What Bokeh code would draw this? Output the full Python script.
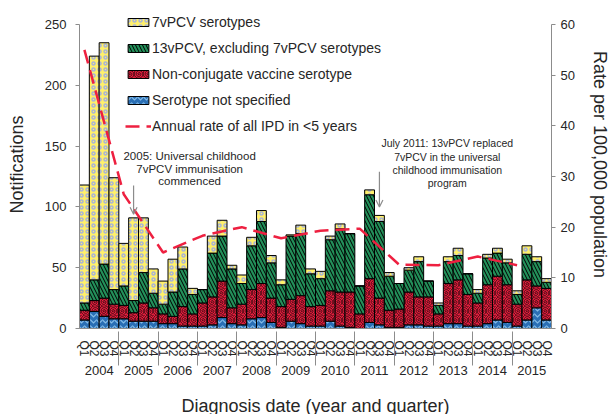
from bokeh.plotting import figure
from bokeh.models import (FactorRange, Range1d, LinearAxis, FixedTicker, Legend, LegendItem,
                          Label, Arrow, OpenHead, ColumnDataSource)
from bokeh.embed import file_html
from bokeh.resources import INLINE

years = [str(y) for y in range(2004, 2016)]
quarters = ["Q1", "Q2", "Q3", "Q4"]

# Notifications per quarter, 2004 Q1 .. 2015 Q4 (stack components)
serotype_not_specified = [7, 14, 10, 8, 8, 6, 6, 6, 4, 4, 2, 2,
                          2, 3, 9, 4, 3, 8, 9, 5, 1, 6, 4, 2,
                          2, 6, 2, 1, 0, 5, 3, 1, 1, 3, 3, 2,
                          2, 4, 4, 2, 2, 4, 7, 5, 2, 7, 17, 7]
non_conjugate = [8, 9, 15, 12, 11, 7, 15, 11, 8, 6, 16, 10,
                 19, 23, 30, 13, 17, 24, 28, 20, 17, 18, 23, 16,
                 17, 25, 28, 29, 12, 36, 22, 14, 15, 27, 23, 24,
                 10, 33, 36, 26, 19, 32, 36, 31, 18, 33, 18, 26]
pcv13_excl_7 = [6, 17, 28, 12, 16, 10, 25, 12, 8, 20, 31, 16,
                11, 36, 37, 32, 17, 36, 51, 29, 18, 52, 51, 27,
                22, 42, 52, 48, 23, 69, 63, 28, 21, 18, 29, 13,
                7, 18, 20, 17, 8, 22, 19, 18, 8, 21, 20, 5]
pcv7 = [97, 184, 182, 92, 35, 68, 45, 20, 19, 27, 18, 5,
        0, 14, 13, 3, 7, 7, 9, 6, 4, 1, 7, 4,
        6, 3, 4, 0, 0, 4, 5, 3, 0, 2, 4, 0,
        2, 4, 6, 0, 3, 3, 4, 3, 3, 7, 4, 3]
# Annual rate of all IPD in <5 years (per 100,000), one value per year
annual_rate = [55, 26.5, 15, 18.3, 20, 17.8, 19.3, 19.7, 12.6, 12.5, 14.2, 12.5]

left_ticks = [0, 50, 100, 150, 200, 250]
right_ticks = [0, 10, 20, 30, 40, 50, 60]

factors = [(y, q) for y in years for q in quarters]

FONT = "Liberation Sans"
TXT = "#262626"
AXC = "#8c8c8c"

FRAME_H = 328          # frame reaches the top of the canvas so the legend is not clipped
AXIS_H = 304           # pixel height of the 0..250 axis
top_left = left_ticks[-1] * FRAME_H / AXIS_H
top_right = right_ticks[-1] * FRAME_H / AXIS_H

p = figure(x_range=FactorRange(factors=factors, factor_padding=0, group_padding=0,
                               subgroup_padding=0, range_padding=0),
           y_range=Range1d(0, top_left),
           frame_width=472, frame_height=FRAME_H,
           min_border_left=79, min_border_right=60, min_border_top=0, min_border_bottom=86,
           output_backend="svg", toolbar_location=None)
p.extra_y_ranges = {"rate": Range1d(0, top_right)}

src = ColumnDataSource(dict(x=factors, blue=serotype_not_specified, red=non_conjugate,
                            green=pcv13_excl_7, yellow=pcv7))
rs = p.vbar_stack(["blue", "red", "green", "yellow"], x="x", width=1.0, source=src,
                  fill_color=["#2a6fb5", "#ee2040", "#23905a", "#fff06a"],
                  hatch_pattern=["horizontal_wave", "spiral", "left_diagonal_line", "ring"],
                  hatch_color=["#86bde8", "black", "black", "#a8b3d6"],
                  hatch_scale=[6, 9, 7, 6], hatch_weight=[1.2, 0.8, 1.0, 1.5],
                  line_color="black", line_width=1)

rate_line = p.line(x=[(y, "Q1") for y in years], y=annual_rate, y_range_name="rate",
                   line_color="#ee2040", line_width=2.5, line_dash="14 7")

legend = Legend(items=[LegendItem(label="7vPCV serotypes", renderers=[rs[3]]),
                       LegendItem(label="13vPCV, excluding 7vPCV serotypes", renderers=[rs[2]]),
                       LegendItem(label="Non-conjugate vaccine serotype", renderers=[rs[1]]),
                       LegendItem(label="Serotype not specified", renderers=[rs[0]]),
                       LegendItem(label="Annual rate of all IPD in <5 years", renderers=[rate_line])],
                location=(46, 194), background_fill_alpha=0, border_line_color=None,
                label_text_font=FONT, label_text_font_size="14px", label_text_color=TXT,
                glyph_width=26, glyph_height=10, label_standoff=1, spacing=10,
                padding=0, margin=0, label_height=14)
p.add_layout(legend)

# axes
p.xgrid.grid_line_color = None
p.ygrid.grid_line_color = None
p.outline_line_color = None

xa = p.xaxis[0]
xa.major_label_orientation = "vertical"
xa.major_label_text_font = FONT
xa.major_label_text_font_size = "12px"
xa.major_label_text_color = TXT
xa.major_label_standoff = 6
xa.group_text_font = FONT
xa.group_text_font_size = "13px"
xa.group_text_font_style = "normal"
xa.group_text_color = TXT
xa.separator_line_color = AXC
xa.separator_line_width = 1
xa.major_tick_line_color = None
xa.axis_line_color = AXC
xa.axis_label = "Diagnosis date (year and quarter)"
xa.axis_label_text_font = FONT
xa.axis_label_text_font_size = "18px"
xa.axis_label_text_font_style = "normal"
xa.axis_label_text_color = TXT
xa.axis_label_standoff = 18

ya = p.yaxis[0]
ya.ticker = FixedTicker(ticks=left_ticks)
ya.bounds = (left_ticks[0], left_ticks[-1])
ya.axis_label = "Notifications"

ra = LinearAxis(y_range_name="rate", ticker=FixedTicker(ticks=right_ticks),
                bounds=(right_ticks[0], right_ticks[-1]),
                axis_label="Rate per 100,000 population")
p.add_layout(ra, "right")

for ax in (ya, ra):
    ax.axis_line_color = AXC
    ax.major_tick_line_color = AXC
    ax.major_tick_in = 0
    ax.major_tick_out = 4
    ax.minor_tick_line_color = None
    ax.major_label_text_font = FONT
    ax.major_label_text_font_size = "13px"
    ax.major_label_text_color = TXT
    ax.axis_label_text_font = FONT
    ax.axis_label_text_font_size = "18px"
    ax.axis_label_text_font_style = "normal"
    ax.axis_label_text_color = TXT
ya.major_label_standoff = 9
ya.axis_label_standoff = 15
ra.major_label_standoff = 5
ra.axis_label_standoff = 12

# annotations
p.add_layout(Label(x=11.2, y=131.5, text="2005: Universal childhood\n7vPCV immunisation\ncommenced",
                   text_align="center", text_baseline="middle", text_font=FONT,
                   text_font_size="11.5px", text_color=TXT, text_line_height=1.05))
p.add_layout(Label(x=37.4, y=136, text="July 2011: 13vPCV replaced\n7vPCV in the universal\nchildhood immunisation\nprogram",
                   text_align="center", text_baseline="middle", text_font=FONT,
                   text_font_size="10.5px", text_color=TXT, text_line_height=1.1))
p.add_layout(Arrow(x_start=5.5, y_start=117.5, x_end=5.5, y_end=94,
                   line_color=AXC, line_width=1.2,
                   end=OpenHead(size=7, line_color=AXC, line_width=1.2)))
p.add_layout(Arrow(x_start=30.5, y_start=129, x_end=30.5, y_end=100,
                   line_color=AXC, line_width=1.2,
                   end=OpenHead(size=7, line_color=AXC, line_width=1.2)))

open("out.html", "w").write(file_html(p, INLINE))
